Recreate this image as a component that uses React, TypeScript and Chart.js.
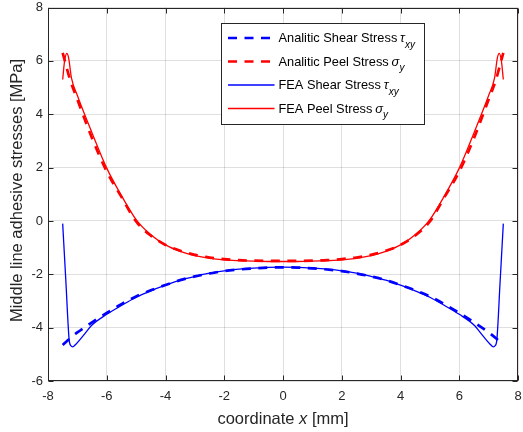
import React, { useEffect, useRef } from "react";
import { Chart, registerables } from "chart.js";

Chart.register(...registerables);

// ---------- data ----------
const analyticX = [
  -7.5, -7.25, -7, -6.5, -6, -5.5, -5, -4.5, -4, -3.5, -3, -2.5, -2, -1.5, -1, -0.5, 0,
  0.5, 1, 1.5, 2, 2.5, 3, 3.5, 4, 4.5, 5, 5.5, 6, 6.5, 7, 7.25, 7.5,
];
const analyticShear = [
  -4.65, -4.4, -4.18, -3.8, -3.45, -3.12, -2.83, -2.6, -2.4, -2.22, -2.08, -1.97, -1.88, -1.82, -1.78, -1.75, -1.74,
  -1.75, -1.78, -1.82, -1.88, -1.97, -2.08, -2.22, -2.4, -2.6, -2.83, -3.12, -3.45, -3.8, -4.18, -4.4, -4.65,
];
const analyticPeel = [
  6.3, 5.3, 4.55, 3.1, 1.85, 0.9, -0.02, -0.55, -0.9, -1.12, -1.27, -1.37, -1.43, -1.47, -1.49, -1.5, -1.5,
  -1.5, -1.49, -1.47, -1.43, -1.37, -1.27, -1.12, -0.9, -0.55, -0.02, 0.9, 1.85, 3.1, 4.55, 5.3, 6.3,
];

const feaShearX = [
  -7.5, -7.39, -7.28, -7.22, -7.16, -7.05, -6.8, -6.5, -6, -5.5, -5, -4.5, -4, -3.5, -3, -2.5, -2, -1.5, -1, -0.5, 0,
  0.5, 1, 1.5, 2, 2.5, 3, 3.5, 4, 4.5, 5, 5.5, 6, 6.5, 6.8, 7.05, 7.16, 7.22, 7.28, 7.39, 7.5,
];
const feaShear = [
  -0.1, -2.3, -4.45, -4.68, -4.72, -4.62, -4.3, -3.9, -3.5, -3.17, -2.86, -2.62, -2.41, -2.22, -2.08, -1.96, -1.87, -1.81, -1.77, -1.74, -1.73,
  -1.74, -1.77, -1.81, -1.87, -1.96, -2.08, -2.22, -2.41, -2.62, -2.86, -3.17, -3.5, -3.9, -4.3, -4.62, -4.72, -4.68, -4.45, -2.3, -0.1,
];

const feaPeelX = [
  -7.5, -7.44, -7.36, -7.3, -7.2, -7, -6.5, -6, -5.5, -5, -4.5, -4, -3.5, -3, -2.5, -2, -1.5, -1, -0.5, 0,
  0.5, 1, 1.5, 2, 2.5, 3, 3.5, 4, 4.5, 5, 5.5, 6, 6.5, 7, 7.2, 7.3, 7.36, 7.44, 7.5,
];
const feaPeel = [
  5.3, 5.95, 6.28, 6.12, 5.35, 4.7, 3.3, 1.98, 0.95, 0.05, -0.52, -0.9, -1.14, -1.3, -1.4, -1.46, -1.49, -1.51, -1.52, -1.52,
  -1.52, -1.51, -1.49, -1.46, -1.4, -1.3, -1.14, -0.9, -0.52, 0.05, 0.95, 1.98, 3.3, 4.7, 5.35, 6.12, 6.28, 5.95, 5.3,
];

const xTicks = [-8, -6, -4, -2, 0, 2, 4, 6, 8];
const yTicks = [-6, -4, -2, 0, 2, 4, 6, 8];

const legendMain = [
  "Analitic Shear Stress ",
  "Analitic Peel Stress ",
  "FEA Shear Stress ",
  "FEA Peel Stress ",
];
const legendGreek = ["\u03C4", "\u03C3", "\u03C4", "\u03C3"];
const legendSub = ["xy", "y", "xy", "y"];

const xTitleParts = ["coordinate ", "x", " [mm]"];
const yTitle = "Middle line adhesive stresses [MPa]";

// ---------- styling ----------
const FONT = "'Liberation Sans', Arial, Helvetica, sans-serif";
const AXIS = "#262626";
const BLUE = "#0000ff";
const RED = "#ff0000";
const DASH = [9, 7.5];

const legendStyles = [
  { color: BLUE, width: 2.7, dash: DASH },
  { color: RED, width: 2.7, dash: DASH },
  { color: BLUE, width: 1.3, dash: [] as number[] },
  { color: RED, width: 1.3, dash: [] as number[] },
];

const matlabPlugin = {
  id: "matlabDecor",
  afterDatasetsDraw(chart: any) {
    const ctx = chart.ctx as CanvasRenderingContext2D;
    const a = chart.chartArea;
    const xs = chart.scales.x;
    const ys = chart.scales.y;
    ctx.save();
    ctx.strokeStyle = AXIS;
    ctx.lineWidth = 1;
    ctx.setLineDash([]);
    const L = Math.round(a.left) + 0.5;
    const R = Math.round(a.right) - 0.5;
    const T = Math.round(a.top) + 0.5;
    const B = Math.round(a.bottom) - 0.5;
    ctx.strokeRect(L, T, R - L, B - T);
    const tl = 5;
    ctx.beginPath();
    for (const v of xTicks) {
      const px = Math.round(xs.getPixelForValue(v)) + 0.5;
      ctx.moveTo(px, B);
      ctx.lineTo(px, B - tl);
      ctx.moveTo(px, T);
      ctx.lineTo(px, T + tl);
    }
    for (const v of yTicks) {
      const py = Math.round(ys.getPixelForValue(v)) + 0.5;
      ctx.moveTo(L, py);
      ctx.lineTo(L + tl, py);
      ctx.moveTo(R, py);
      ctx.lineTo(R - tl, py);
    }
    ctx.stroke();
    ctx.restore();
  },
  afterDraw(chart: any) {
    const ctx = chart.ctx as CanvasRenderingContext2D;
    const a = chart.chartArea;
    ctx.save();
    // axis titles
    ctx.fillStyle = AXIS;
    ctx.textBaseline = "alphabetic";
    const tsize = 16.5;
    const normal = `${tsize}px ${FONT}`;
    const italic = `italic ${tsize}px ${FONT}`;
    ctx.font = normal;
    const w0 = ctx.measureText(xTitleParts[0]).width;
    ctx.font = italic;
    const w1 = ctx.measureText(xTitleParts[1]).width;
    ctx.font = normal;
    const w2 = ctx.measureText(xTitleParts[2]).width;
    const cx = (a.left + a.right) / 2;
    let x = cx - (w0 + w1 + w2) / 2;
    const by = 424;
    ctx.textAlign = "left";
    ctx.font = normal;
    ctx.fillText(xTitleParts[0], x, by);
    x += w0;
    ctx.font = italic;
    ctx.fillText(xTitleParts[1], x, by);
    x += w1;
    ctx.font = normal;
    ctx.fillText(xTitleParts[2], x, by);

    ctx.save();
    ctx.translate(22, 190.5);
    ctx.rotate(-Math.PI / 2);
    ctx.textAlign = "center";
    ctx.font = normal;
    ctx.fillText(yTitle, 0, 0);
    ctx.restore();

    // legend
    const bx = 221.5, bw = 203, bt = 23.5, bh = 101;
    ctx.fillStyle = "#ffffff";
    ctx.fillRect(bx, bt, bw, bh);
    ctx.strokeStyle = AXIS;
    ctx.lineWidth = 1;
    ctx.setLineDash([]);
    ctx.strokeRect(bx, bt, bw, bh);
    const rows = [38, 61.5, 85, 108.5];
    const lsize = 12.8;
    for (let i = 0; i < rows.length; i++) {
      const ry = rows[i];
      const st = legendStyles[i];
      ctx.save();
      ctx.strokeStyle = st.color;
      ctx.lineWidth = st.width;
      ctx.setLineDash(st.dash);
      ctx.lineCap = "butt";
      ctx.beginPath();
      ctx.moveTo(228, ry);
      ctx.lineTo(274.5, ry);
      ctx.stroke();
      ctx.restore();
      ctx.fillStyle = "#000000";
      ctx.textAlign = "left";
      ctx.textBaseline = "alphabetic";
      let tx = 278.5;
      const tb = ry + 4.3;
      ctx.font = `${lsize}px ${FONT}`;
      ctx.fillText(legendMain[i], tx, tb);
      tx += ctx.measureText(legendMain[i]).width - 0.8;
      ctx.font = `italic ${lsize}px ${FONT}`;
      ctx.fillText(legendGreek[i], tx, tb);
      tx += ctx.measureText(legendGreek[i]).width + 0.2;
      ctx.font = `italic 10px ${FONT}`;
      ctx.fillText(legendSub[i], tx, tb + 5.2);
    }
    ctx.restore();
  },
};

function pts(xs: number[], ys: number[]) {
  return xs.map((x, i) => ({ x, y: ys[i] }));
}

export default function App() {
  const ref = useRef<HTMLCanvasElement | null>(null);
  useEffect(() => {
    document.body.style.margin = "0";
    const canvas = ref.current;
    if (!canvas) return;
    const chart = new Chart(canvas, {
      type: "line",
      data: {
        datasets: [
          {
            label: "FEA Peel Stress",
            data: pts(feaPeelX, feaPeel),
            borderColor: RED,
            borderWidth: 1.3,
            pointRadius: 0,
            fill: false,
            cubicInterpolationMode: "monotone",
            order: 0,
          },
          {
            label: "FEA Shear Stress",
            data: pts(feaShearX, feaShear),
            borderColor: BLUE,
            borderWidth: 1.3,
            pointRadius: 0,
            fill: false,
            cubicInterpolationMode: "monotone",
            order: 1,
          },
          {
            label: "Analitic Peel Stress",
            data: pts(analyticX, analyticPeel),
            borderColor: RED,
            borderWidth: 2.7,
            borderDash: DASH,
            pointRadius: 0,
            fill: false,
            cubicInterpolationMode: "monotone",
            order: 2,
          },
          {
            label: "Analitic Shear Stress",
            data: pts(analyticX, analyticShear),
            borderColor: BLUE,
            borderWidth: 2.7,
            borderDash: DASH,
            pointRadius: 0,
            fill: false,
            cubicInterpolationMode: "monotone",
            order: 3,
          },
        ] as any,
      },
      options: {
        responsive: false,
        animation: false,
        devicePixelRatio: 1,
        layout: { padding: { top: 7.5, right: 5, left: 0, bottom: 0 } },
        plugins: {
          legend: { display: false },
          tooltip: { enabled: false },
          title: { display: false },
        },
        events: [],
        scales: {
          x: {
            type: "linear",
            min: -8,
            max: 8,
            afterFit: (s: any) => {
              s.height = 51;
              s.paddingLeft = 0;
              s.paddingRight = 0;
            },
            afterBuildTicks: (s: any) => {
              s.ticks = xTicks.map((v) => ({ value: v }));
            },
            border: { display: false },
            grid: { color: "rgba(38,38,38,0.15)", lineWidth: 1, drawTicks: false },
            ticks: {
              padding: 8,
              color: AXIS,
              font: { family: FONT, size: 13 },
              maxRotation: 0,
              autoSkip: false,
            },
          },
          y: {
            type: "linear",
            min: -6,
            max: 8,
            afterFit: (s: any) => {
              s.width = 48;
              s.paddingTop = 0;
              s.paddingBottom = 0;
            },
            afterBuildTicks: (s: any) => {
              s.ticks = yTicks.map((v) => ({ value: v }));
            },
            border: { display: false },
            grid: { color: "rgba(38,38,38,0.15)", lineWidth: 1, drawTicks: false },
            ticks: {
              padding: 5,
              color: AXIS,
              font: { family: FONT, size: 13 },
              autoSkip: false,
            },
          },
        },
      } as any,
      plugins: [matlabPlugin],
    });
    return () => chart.destroy();
  }, []);
  return (
    <div style={{ position: "absolute", left: 0, top: 0, width: 523, height: 432, background: "#fff" }}>
      <canvas ref={ref} width={523} height={432} style={{ display: "block" }} />
    </div>
  );
}
